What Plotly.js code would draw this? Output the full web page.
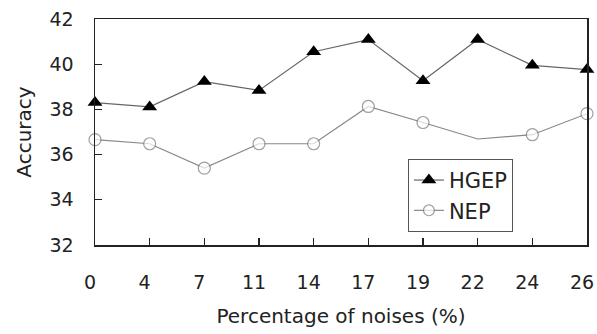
<!DOCTYPE html>
<html>
<head>
<meta charset="utf-8">
<script src="https://cdn.plot.ly/plotly-3.0.1.min.js"></script>
<style>html,body{margin:0;padding:0;background:#fff;}#chart{width:597px;height:334px;}</style>
</head>
<body>
<div id="chart"></div>
<script>
const noiseLabels = ["0", "4", "7", "11", "14", "17", "19", "22", "24", "26"];
const hgepValues = [38.30, 38.11, 39.23, 38.84, 40.55, 41.09, 39.27, 41.09, 39.95, 39.76];
const nepValues = [36.66, 36.48, 35.40, 36.48, 36.48, 38.13, 37.42, 36.69, 36.88, 37.81];
const yTicks = [32, 34, 36, 38, 40, 42];

const font = "DejaVu Sans, Arial, sans-serif";

const traces = [
  {
    x: noiseLabels, y: hgepValues, name: "HGEP", type: "scatter", mode: "lines+markers",
    line: {color: "#666666", width: 1.2},
    marker: {symbol: "triangle-up", size: 13, color: "#000000", line: {width: 0}},
    cliponaxis: false
  },
  {
    x: noiseLabels, y: nepValues, name: "NEP", type: "scatter", mode: "lines+markers",
    line: {color: "#888888", width: 1.2},
    marker: {symbol: "circle", size: [12,12,12,12,12,12,12,0,12,12], color: "#ffffff", line: {color: "#777777", width: 1.2}},
    cliponaxis: false
  }
];

const layout = {
  width: 597, height: 334,
  margin: {l: 95, r: 10, t: 19, b: 89},
  paper_bgcolor: "#ffffff", plot_bgcolor: "#ffffff",
  font: {family: font, size: 19, color: "#222222"},
  showlegend: true,
  legend: {
    x: 0.636, xanchor: "left", y: 0.381, yanchor: "top",
    bgcolor: "#ffffff", bordercolor: "#555555", borderwidth: 1,
    itemwidth: 30,
    font: {family: font, size: 21, color: "#222222"}
  },
  xaxis: {
    type: "category", range: [0, 9],
    showline: true, linecolor: "#222222", linewidth: 1.5, mirror: true,
    showgrid: false, zeroline: false,
    ticks: "inside", ticklen: 7, tickcolor: "#222222", tickwidth: 1.2,
    ticklabelstandoff: 20, ticklabelshift: -5,
    tickfont: {family: font, size: 19, color: "#222222"},
    title: {text: "Percentage of noises (%)", font: {family: font, size: 20, color: "#222222"}, standoff: 16}
  },
  yaxis: {
    range: [32, 42], tickvals: yTicks,
    showline: true, linecolor: "#222222", linewidth: 1.5, mirror: true,
    showgrid: false, zeroline: false,
    ticks: "inside", ticklen: 7, tickcolor: "#222222", tickwidth: 1.2,
    ticklabelstandoff: 16,
    tickfont: {family: font, size: 19, color: "#222222"},
    title: {text: "Accuracy", font: {family: font, size: 20, color: "#222222"}, standoff: 12}
  }
};

Plotly.newPlot("chart", traces, layout, {displayModeBar: false, staticPlot: true});
</script>
</body>
</html>
